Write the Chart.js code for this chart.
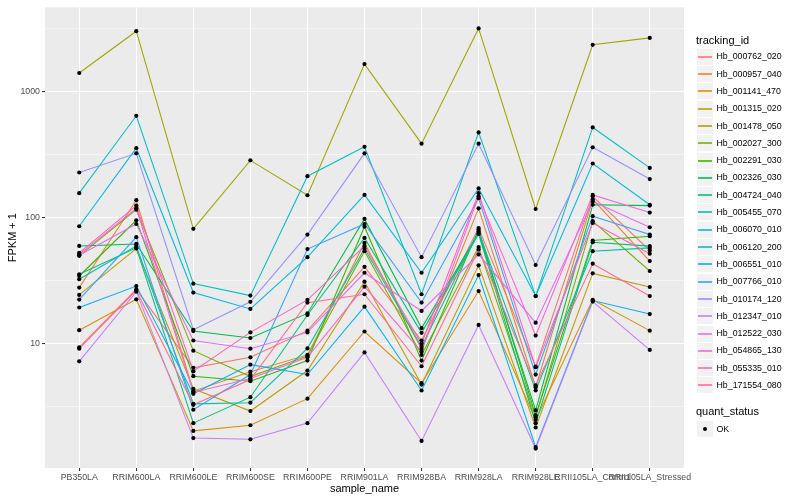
<!DOCTYPE html>
<html><head><meta charset="utf-8">
<script src="https://cdn.jsdelivr.net/npm/chart.js@4"></script>
<style>
html,body{margin:0;padding:0;background:#fff;}
#wrap{position:relative;width:800px;height:500px;font-family:'Liberation Sans',Arial,Helvetica,sans-serif;}
#c{position:absolute;left:0;top:0;}
.t{position:absolute;white-space:nowrap;line-height:1;}
.key{position:absolute;background:#F2F2F2;}
.kl{position:absolute;}
</style></head><body>
<div id="wrap"><canvas id="c" width="800" height="500"></canvas><div id="legend"></div></div>
<script>
// ---- data ----
const categories = ["PB350LA","RRIM600LA","RRIM600LE","RRIM600SE","RRIM600PE","RRIM901LA","RRIM928BA","RRIM928LA","RRIM928LE","RRII105LA_Control","RRII105LA_Stressed"];
const trackingIds = ["Hb_000762_020","Hb_000957_040","Hb_001141_470","Hb_001315_020","Hb_001478_050","Hb_002027_300","Hb_002291_030","Hb_002326_030","Hb_004724_040","Hb_005455_070","Hb_006070_010","Hb_006120_200","Hb_006551_010","Hb_007766_010","Hb_010174_120","Hb_012347_010","Hb_012522_030","Hb_054865_130","Hb_055335_010","Hb_171554_080"];
const quantStatus = ["OK"];
const Hb_000762_020 = [9.35, 27.0, 6.43, 7.8, 12.7, 40.8, 10.6, 83, 6.58, 148, 55];
const Hb_000957_040 = [27.9, 138, 4.20, 6.0, 8.15, 63.2, 9.08, 119, 4.52, 140, 45.3];
const Hb_001141_470 = [12.8, 22.5, 2.03, 2.25, 3.66, 12.5, 4.86, 26.2, 2.49, 22.3, 12.7];
const Hb_001315_020 = [24.4, 57, 4.39, 2.92, 6.12, 31.1, 4.74, 41.9, 2.16, 36.2, 28.2];
const Hb_001478_050 = [1413, 3034, 81.7, 286, 151, 1663, 388, 3193, 117.5, 2366, 2685];
const Hb_002027_300 = [49.9, 116, 8.8, 5.48, 8.0, 54.3, 8.15, 58.5, 2.6, 94, 37.8];
const Hb_002291_030 = [34.5, 95.5, 5.52, 5.04, 7.34, 85, 7.34, 80.7, 2.70, 66, 71.4];
const Hb_002326_030 = [59.8, 62, 12.6, 11.1, 17.4, 98, 13.3, 75.9, 2.95, 127, 125];
const Hb_004724_040 = [35.6, 57.7, 2.34, 3.76, 16.9, 69.2, 12.2, 74.5, 2.34, 64, 59.6];
const Hb_005455_070 = [32.5, 59.6, 3.33, 3.40, 9.18, 57, 9.47, 78, 4.25, 54.3, 57.7];
const Hb_006070_010 = [157, 646, 30.0, 24.1, 214, 366, 24.7, 477, 23.9, 522, 249];
const Hb_006120_200 = [85.7, 357, 25.5, 18.9, 48.7, 152, 36.6, 171, 23.9, 270, 127];
const Hb_006551_010 = [19.4, 28.7, 4.00, 6.82, 5.69, 19.7, 4.25, 35.1, 1.51, 22.0, 17.2];
const Hb_007766_010 = [22.4, 70.2, 2.99, 5.69, 56.4, 89.3, 21.2, 143, 5.69, 103, 73.6];
const Hb_010174_120 = [229, 325, 12.9, 21.5, 73.6, 325, 48.7, 388, 42.2, 363, 203];
const Hb_012347_010 = [7.24, 25.9, 1.78, 1.74, 2.34, 8.53, 1.69, 14.1, 1.47, 21.6, 8.92];
const Hb_012522_030 = [50.5, 89.3, 10.6, 9.13, 12.3, 36.6, 18.2, 51.2, 14.7, 135, 84.1];
const Hb_054865_130 = [51.2, 119, 4.1, 5.3, 7.8, 28.4, 8.65, 148, 11.6, 152, 110];
const Hb_055335_010 = [52.7, 125, 6.04, 12.3, 22.3, 59.6, 10, 157, 6.50, 91, 51.8];
const Hb_171554_080 = [9.13, 26.5, 3.27, 5.19, 21.2, 24.7, 6.62, 56.1, 4.66, 43.2, 23.9];
const seriesValues = [Hb_000762_020,Hb_000957_040,Hb_001141_470,Hb_001315_020,Hb_001478_050,Hb_002027_300,Hb_002291_030,Hb_002326_030,Hb_004724_040,Hb_005455_070,Hb_006070_010,Hb_006120_200,Hb_006551_010,Hb_007766_010,Hb_010174_120,Hb_012347_010,Hb_012522_030,Hb_054865_130,Hb_055335_010,Hb_171554_080];
const yTickValues = [10, 100, 1000];
const yMinorValues = [3.1623, 31.623, 316.23, 3162.3];

// ---- styles ----
const palette = ["#F8766D","#EA8331","#D89000","#C09B00","#A3A500","#7CAE00","#39B600","#00BB4E","#00BF7D","#00C1A3","#00BFC4","#00BAE0","#00B0F6","#35A2FF","#9590FF","#C77CFF","#E76BF3","#FA62DB","#FF62BC","#FF6C91"];
const FAM = "'Liberation Sans', Arial, Helvetica, sans-serif";

const datasets = seriesValues.map((vals, k) => ({
  type: 'line', label: trackingIds[k],
  data: vals.map((v, i) => ({x: i, y: v})),
  borderColor: palette[k], borderWidth: 1.07, pointRadius: 0, fill: false, tension: 0,
  order: 100 - k
}));
const pts = [];
seriesValues.forEach(vals => vals.forEach((v, i) => pts.push({x: i, y: v})));
datasets.push({type: 'scatter', label: quantStatus[0], data: pts, pointRadius: 2.1,
  pointBackgroundColor: '#000', pointBorderWidth: 0, showLine: false, order: 0});

const panelBg = {id: 'panelBg', beforeDraw(chart) {
  const {ctx, chartArea: a} = chart;
  ctx.save(); ctx.fillStyle = '#EBEBEB';
  ctx.fillRect(a.left, a.top, a.right - a.left, a.bottom - a.top); ctx.restore();
}};
const isMajor = v => yTickValues.some(t => Math.abs(t - v) < 1e-6);

new Chart(document.getElementById('c'), {
  type: 'line',
  data: {datasets},
  plugins: [panelBg],
  options: {
    responsive: false, animation: false, devicePixelRatio: 1,
    layout: {padding: {left: 0, right: 116, top: 5, bottom: 0}},
    plugins: {legend: {display: false}, tooltip: {enabled: false}},
    scales: {
      x: {
        type: 'linear', min: -0.6, max: 10.6,
        afterBuildTicks: s => { s.ticks = categories.map((c, i) => ({value: i})); },
        afterFit: s => { s.height = 32; },
        ticks: {callback: v => categories[v] ?? '', maxRotation: 0, minRotation: 0, autoSkip: false,
          color: '#4D4D4D', font: {family: FAM, size: 8.8}, padding: 1},
        grid: {color: '#FFFFFF', lineWidth: 1.07, tickColor: '#333333', tickLength: 3, drawTicks: true},
        border: {display: false},
        title: {display: true, text: 'sample_name', color: '#000', font: {family: FAM, size: 11}, padding: {top: 0, bottom: 4}}
      },
      y: {
        type: 'logarithmic', min: 1.03, max: 4700,
        afterBuildTicks: s => {
          s.ticks = yMinorValues.concat(yTickValues).sort((a, b) => a - b).map(v => ({value: v, major: isMajor(v)}));
        },
        afterFit: s => { s.width = 45; },
        ticks: {callback: v => isMajor(v) ? String(v) : '', autoSkip: false,
          color: '#4D4D4D', font: {family: FAM, size: 8.8}, padding: 2},
        grid: {color: '#FFFFFF',
          lineWidth: c => (c.tick && isMajor(c.tick.value)) ? 1.07 : 0.53,
          tickColor: c => (c.tick && isMajor(c.tick.value)) ? '#333333' : 'rgba(0,0,0,0)',
          tickLength: 3, drawTicks: true},
        border: {display: false},
        title: {display: true, text: 'FPKM + 1', color: '#000', font: {family: FAM, size: 11}, padding: {top: 6, bottom: 0}}
      }
    }
  }
});

// ---- legend (HTML) ----
const lg = document.getElementById('legend');
function addText(txt, x, yc, size) {
  const d = document.createElement('div'); d.className = 't';
  d.textContent = txt; d.style.left = x + 'px'; d.style.fontSize = size + 'px';
  d.style.top = (yc - size * 0.5) + 'px'; lg.appendChild(d);
}
addText('tracking_id', 696, 40.5, 11);
const keyStep = 17.3, key0 = 56.7;
trackingIds.forEach((id, k) => {
  const yc = key0 + k * keyStep;
  const box = document.createElement('div'); box.className = 'key';
  box.style.left = '697px'; box.style.top = Math.round(yc - 8) + 'px';
  box.style.width = '16px'; box.style.height = '16px'; lg.appendChild(box);
  const ln = document.createElement('div'); ln.className = 'kl';
  ln.style.left = '698px'; ln.style.top = (Math.round(yc) - 1) + 'px';
  ln.style.width = '14px'; ln.style.height = '2px'; ln.style.background = palette[k];
  ln.style.opacity = '0.8';
  lg.appendChild(ln);
  addText(id, 716.5, yc, 8.8);
});
addText('quant_status', 696, 411.7, 11);
quantStatus.forEach((q, k) => {
  const yc = 429 + k * keyStep;
  const box = document.createElement('div'); box.className = 'key';
  box.style.left = '697px'; box.style.top = Math.round(yc - 8) + 'px';
  box.style.width = '16px'; box.style.height = '16px'; lg.appendChild(box);
  const dot = document.createElement('div'); dot.className = 'kl';
  dot.style.left = '703px'; dot.style.top = (Math.round(yc) - 2) + 'px';
  dot.style.width = '4px'; dot.style.height = '4px'; dot.style.borderRadius = '50%';
  dot.style.background = '#000'; lg.appendChild(dot);
  addText(q, 716.5, yc, 8.8);
});
</script>
</body></html>
